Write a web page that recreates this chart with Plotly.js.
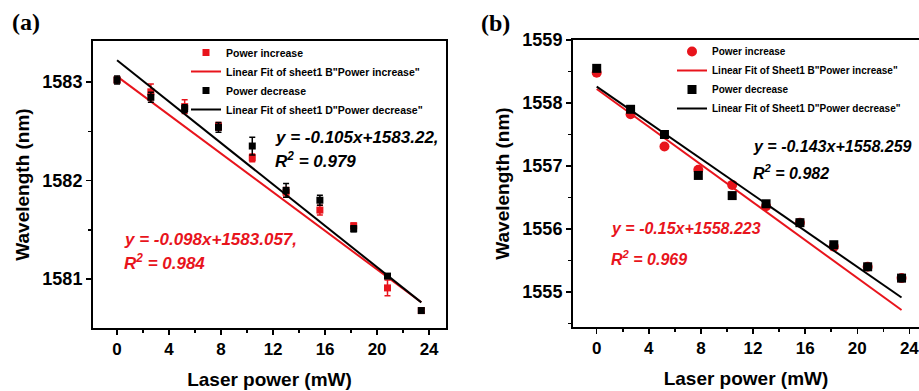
<!DOCTYPE html>
<html><head><meta charset="utf-8">
<script src="https://cdn.plot.ly/plotly-3.0.1.min.js"></script>
<style>html,body{margin:0;padding:0;background:#fff}#chart{width:919px;height:391px}</style>
</head><body><div id="chart"></div>
<script>
// ---- data ----
const power = [0, 2.6, 5.2, 7.8, 10.4, 13, 15.6, 18.2, 20.8, 23.4];
// panel (a)
const aIncrease    = [1583.02, 1582.90, 1582.75, 1582.55, 1582.23, 1581.88, 1581.70, 1581.54, 1580.91, 1580.68];
const aIncreaseErr = [0.03, 0.08, 0.07, 0.04, 0.04, 0.05, 0.05, 0.03, 0.08, 0.02];
const aDecrease    = [1583.02, 1582.845, 1582.73, 1582.54, 1582.35, 1581.90, 1581.80, 1581.51, 1581.03, 1580.68];
const aDecreaseErr = [0.04, 0.05, 0.04, 0.05, 0.09, 0.07, 0.05, 0.03, 0.02, 0.02];
const aFitIncrease = [-0.098, 1583.057]; // slope, intercept
const aFitDecrease = [-0.105, 1583.22];
// panel (b)
const bIncrease = [1558.48, 1557.82, 1557.31, 1556.94, 1556.70, 1556.36, 1556.10, 1555.72, 1555.40, 1555.22];
const bDecrease = [1558.55, 1557.90, 1557.50, 1556.85, 1556.53, 1556.40, 1556.10, 1555.75, 1555.40, 1555.22];
const bFitIncrease = [-0.15, 1558.223];
const bFitDecrease = [-0.143, 1558.259];
// labels
const seriesNames = ['Power increase', 'Power decrease'];
const fitNamesA = ['Linear Fit of sheet1 B"Power increase"', 'Linear Fit of sheet1 D"Power decrease"'];
const fitNamesB = ['Linear Fit of Sheet1 B"Power increase"', 'Linear Fit of Sheet1 D"Power decrease"'];

const RED = '#e8141c', BLACK = '#000000';
const FONT = 'Liberation Sans, Arial, sans-serif';
const W = 919, H = 391;

const fitX = [power[0], power[power.length - 1]];
const fitY = (f) => fitX.map(x => f[0] * x + f[1]);

const traces = [
  {x: power, y: aIncrease, type: 'scatter', mode: 'markers', name: seriesNames[0],
   marker: {symbol: 'square', size: 7, color: RED},
   error_y: {type: 'data', array: aIncreaseErr, visible: true, color: RED, thickness: 1.5, width: 3},
   xaxis: 'x', yaxis: 'y', legend: 'legend'},
  {x: fitX, y: fitY(aFitIncrease), type: 'scatter', mode: 'lines', name: fitNamesA[0],
   line: {color: RED, width: 2}, xaxis: 'x', yaxis: 'y', legend: 'legend'},
  {x: power, y: aDecrease, type: 'scatter', mode: 'markers', name: seriesNames[1],
   marker: {symbol: 'square', size: 7, color: BLACK},
   error_y: {type: 'data', array: aDecreaseErr, visible: true, color: BLACK, thickness: 1.5, width: 3},
   xaxis: 'x', yaxis: 'y', legend: 'legend'},
  {x: fitX, y: fitY(aFitDecrease), type: 'scatter', mode: 'lines', name: fitNamesA[1],
   line: {color: BLACK, width: 2}, xaxis: 'x', yaxis: 'y', legend: 'legend'},

  {x: power, y: bIncrease, type: 'scatter', mode: 'markers', name: seriesNames[0],
   marker: {symbol: 'circle', size: 10, color: RED},
   xaxis: 'x2', yaxis: 'y2', legend: 'legend2'},
  {x: fitX, y: fitY(bFitIncrease), type: 'scatter', mode: 'lines', name: fitNamesB[0],
   line: {color: RED, width: 2}, xaxis: 'x2', yaxis: 'y2', legend: 'legend2'},
  {x: power, y: bDecrease, type: 'scatter', mode: 'markers', name: seriesNames[1],
   marker: {symbol: 'square', size: 9, color: BLACK},
   xaxis: 'x2', yaxis: 'y2', legend: 'legend2'},
  {x: fitX, y: fitY(bFitDecrease), type: 'scatter', mode: 'lines', name: fitNamesB[1],
   line: {color: BLACK, width: 2}, xaxis: 'x2', yaxis: 'y2', legend: 'legend2'}
];

function xAxis(domain, range, anchor) {
  return {
    domain: domain, range: range, anchor: anchor,
    tick0: 0, dtick: 4, ticks: 'outside', ticklen: 5, tickwidth: 1.5, tickcolor: BLACK,
    minor: {dtick: 2, ticks: 'outside', ticklen: 3, tickwidth: 1.5, tickcolor: BLACK},
    showline: true, linewidth: 2, linecolor: BLACK, mirror: true,
    showgrid: false, zeroline: false, ticklabeloverflow: 'allow',
    tickfont: {family: FONT, size: 17, color: BLACK, weight: 'bold'},
    title: {text: 'Laser power (mW)', font: {family: FONT, size: 19, color: BLACK, weight: 'bold'}, standoff: 14}
  };
}
function yAxis(domain, range, anchor, mirror) {
  return {
    domain: domain, range: range, anchor: anchor,
    dtick: 1, ticks: 'outside', ticklen: 5, tickwidth: 1.5, tickcolor: BLACK,
    minor: {dtick: 0.5, ticks: 'outside', ticklen: 3, tickwidth: 1.5, tickcolor: BLACK},
    showline: true, linewidth: 2, linecolor: BLACK, mirror: mirror,
    showgrid: false, zeroline: false, tickformat: 'd',
    tickfont: {family: FONT, size: 18, color: BLACK, weight: 'bold'},
    title: {text: 'Wavelength (nm)', font: {family: FONT, size: 19, color: BLACK, weight: 'bold'}, standoff: 8}
  };
}

function eq(xref, yref, x, y, text, color, size) {
  return {xref: xref, yref: yref, x: x, y: y, xanchor: 'left', yanchor: 'middle', showarrow: false,
    text: '<b><i>' + text + '</i></b>', font: {family: FONT, size: size, color: color}};
}

const layout = {
  width: W, height: H,
  margin: {l: 0, r: 0, t: 0, b: 0},
  paper_bgcolor: '#fff', plot_bgcolor: '#fff',
  showlegend: true,
  xaxis: xAxis([93 / W, 446 / W], [-1.85, 25.3], 'y'),
  yaxis: yAxis([63 / H, 350 / H], [1580.503, 1583.416], 'x', true),
  xaxis2: xAxis([573 / W, 1], [-1.82, 24.74], 'y2'),
  yaxis2: yAxis([64 / H, 351 / H], [1554.444, 1559], 'x2', false),
  legend: {x: 186 / W, y: 1 - 38 / H, xanchor: 'left', yanchor: 'top', bgcolor: 'rgba(0,0,0,0)',
    font: {family: FONT, size: 10.5, color: BLACK, weight: 'bold'}, tracegroupgap: 0, itemwidth: 30},
  legend2: {x: 672 / W, y: 1 - 37 / H, xanchor: 'left', yanchor: 'top', bgcolor: 'rgba(0,0,0,0)',
    font: {family: FONT, size: 10, color: BLACK, weight: 'bold'}, tracegroupgap: 0, itemwidth: 30},
  annotations: [
    {xref: 'paper', yref: 'paper', x: 26 / W, y: 1 - 22 / H, xanchor: 'center', yanchor: 'middle', showarrow: false,
     text: '<b>(a)</b>', font: {family: 'Liberation Serif, Times New Roman, serif', size: 24, color: BLACK}},
    {xref: 'paper', yref: 'paper', x: 495 / W, y: 1 - 23 / H, xanchor: 'center', yanchor: 'middle', showarrow: false,
     text: '<b>(b)</b>', font: {family: 'Liberation Serif, Times New Roman, serif', size: 24, color: BLACK}},
    eq('x', 'y', 12.0, 1582.44, 'y = -0.105x+1583.22,', BLACK, 17),
    eq('x', 'y', 12.0, 1582.21, 'R<sup>2</sup> = 0.979', BLACK, 17),
    eq('x', 'y', 0.38, 1581.40, 'y = -0.098x+1583.057,', RED, 17),
    eq('x', 'y', 0.38, 1581.17, 'R<sup>2</sup> = 0.984', RED, 17),
    eq('x2', 'y2', 11.84, 1557.31, 'y = -0.143x+1558.259', BLACK, 16),
    eq('x2', 'y2', 11.84, 1556.91, 'R<sup>2</sup> = 0.982', BLACK, 16),
    eq('x2', 'y2', 0.97, 1556.01, 'y = -0.15x+1558.223', RED, 16),
    eq('x2', 'y2', 0.97, 1555.535, 'R<sup>2</sup> = 0.969', RED, 16)
  ]
};

Plotly.newPlot('chart', traces, layout, {displayModeBar: false, staticPlot: true});
</script>
</body></html>
